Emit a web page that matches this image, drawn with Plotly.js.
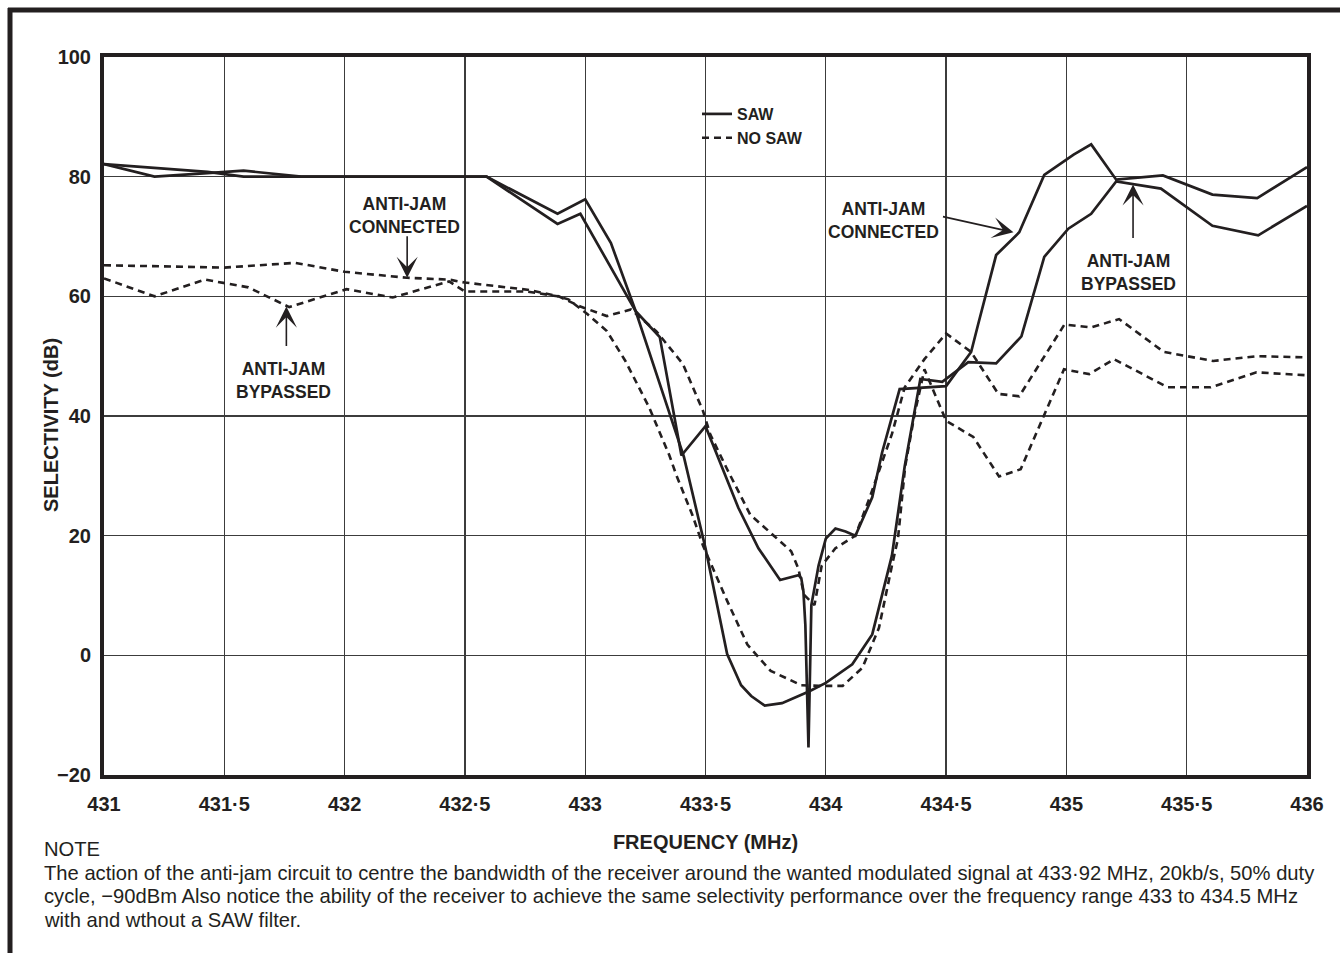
<!DOCTYPE html>
<html><head><meta charset="utf-8">
<script src="https://cdn.plot.ly/plotly-3.0.1.min.js"></script>
<style>html,body{margin:0;padding:0;background:#fff}#chart{width:1340px;height:953px}</style>
</head><body><div id="chart"></div>
<script>
// ---- data ----
const sawConnectedX = [431, 431.21, 431.43, 431.58, 431.82, 432.59, 432.885, 433.0, 433.107, 433.21, 433.31, 433.4, 433.5, 433.636, 433.72, 433.81, 433.886, 433.898, 433.907, 433.915, 433.928, 433.94, 433.97, 434.0, 434.04, 434.082, 434.123, 434.193, 434.234, 434.307, 434.5, 434.604, 434.633, 434.708, 434.804, 434.908, 435.03, 435.103, 435.207, 435.401, 435.607, 435.793, 436];
const sawConnectedY = [82.1, 80.0, 80.6, 81.0, 80.0, 80.0, 73.8, 76.2, 68.9, 57.5, 53.2, 33.4, 38.3, 24.7, 17.9, 12.6, 13.4, 12.9, 10.7, 5.1, -15.4, 8.4, 15.0, 19.5, 21.2, 20.7, 20.0, 26.4, 33.9, 44.5, 45.0, 50.7, 55.3, 66.9, 70.7, 80.3, 83.7, 85.4, 79.5, 80.2, 77.0, 76.4, 81.6];

const sawBypassedX = [431, 431.43, 431.58, 431.82, 432.59, 432.885, 432.98, 433.21, 433.41, 433.5, 433.59, 433.648, 433.69, 433.746, 433.818, 433.932, 434.0, 434.11, 434.193, 434.275, 434.316, 434.328, 434.393, 434.484, 434.592, 434.708, 434.813, 434.908, 435.008, 435.103, 435.207, 435.281, 435.393, 435.607, 435.797, 436];
const sawBypassedY = [82.1, 80.8, 80.0, 80.0, 80.0, 72.1, 73.8, 57.5, 33.2, 17.9, 0.2, -5.0, -6.8, -8.4, -8.0, -6.0, -4.6, -1.5, 3.5, 16.7, 28.7, 31.6, 46.2, 45.7, 49.0, 48.8, 53.3, 66.6, 71.3, 73.8, 79.2, 78.7, 78.0, 71.8, 70.2, 75.1];

const noSawConnectedX = [431, 431.5, 431.795, 432, 432.26, 432.434, 432.5, 432.76, 432.89, 432.98, 433.09, 433.19, 433.295, 433.406, 433.49, 433.52, 433.59, 433.686, 433.784, 433.856, 433.886, 433.91, 433.953, 433.983, 434.04, 434.123, 434.18, 434.275, 434.328, 434.41, 434.5, 434.604, 434.717, 434.804, 434.992, 435.103, 435.219, 435.405, 435.61, 435.793, 436];
const noSawConnectedY = [65.2, 64.8, 65.6, 64.1, 63.1, 62.8, 62.3, 61.1, 60.0, 58.3, 56.7, 57.8, 54.2, 48.7, 40.8, 36.9, 31.1, 23.5, 20.0, 17.4, 14.5, 10.1, 8.4, 15.0, 17.9, 20.0, 26.1, 37.0, 44.8, 49.5, 53.8, 50.7, 43.7, 43.3, 55.3, 54.8, 56.2, 50.7, 49.2, 50.0, 49.8];

const noSawBypassedX = [431, 431.21, 431.42, 431.6, 431.77, 432.008, 432.2, 432.434, 432.5, 432.76, 432.885, 432.93, 433.01, 433.09, 433.167, 433.265, 433.35, 433.38, 433.445, 433.49, 433.59, 433.674, 433.771, 433.898, 433.97, 434.07, 434.152, 434.221, 434.275, 434.3, 434.33, 434.369, 434.41, 434.5, 434.613, 434.72, 434.81, 434.99, 435.095, 435.198, 435.421, 435.6, 435.79, 436];
const noSawBypassedY = [63.0, 60.0, 62.8, 61.5, 58.2, 61.2, 59.8, 62.5, 60.8, 60.8, 60.0, 59.5, 57.0, 54.2, 49.2, 41.5, 33.4, 30.0, 23.5, 18.3, 9.1, 1.8, -2.6, -5.0, -5.1, -5.1, -2.1, 4.6, 15.0, 19.5, 31.6, 40.3, 47.8, 39.2, 36.5, 29.9, 31.1, 47.8, 47.0, 49.5, 44.8, 44.8, 47.3, 46.8];

const xTickVals = [431, 431.5, 432, 432.5, 433, 433.5, 434, 434.5, 435, 435.5, 436];
const xTickText = ['431', '431·5', '432', '432·5', '433', '433·5', '434', '434·5', '435', '435·5', '436'];
const yTickVals = [-20, 0, 20, 40, 60, 80, 100];

const seriesNames = ['SAW', 'NO SAW'];
const labelConnected = 'ANTI-JAM<br>CONNECTED';
const labelBypassed = 'ANTI-JAM<br>BYPASSED';
const xTitle = 'FREQUENCY (MHz)';
const yTitle = 'SELECTIVITY (dB)';
const noteLines = [
  'NOTE',
  'The action of the anti-jam circuit to centre the bandwidth of the receiver around the wanted modulated signal at 433·92 MHz, 20kb/s, 50% duty',
  'cycle, \u221290dBm Also notice the ability of the receiver to achieve the same selectivity performance over the frequency range 433 to 434.5 MHz',
  'with and wthout a SAW filter.'
];

// ---- layout helpers ----
const W = 1340, H = 953;
const M = {l: 104, r: 33, t: 57, b: 178};
const PW = W - M.l - M.r, PH = H - M.t - M.b;
const px = p => (p - M.l) / PW;
const py = p => (H - M.b - p) / PH;
const INK = '#231f20';
const FONT = '"Liberation Sans", Arial, Helvetica, sans-serif';

const solid = {color: INK, width: 2.7};
const dashed = {color: INK, width: 2.6, dash: '7px,5px'};

const traces = [
  {x: sawConnectedX, y: sawConnectedY, mode: 'lines', name: seriesNames[0], line: solid, showlegend: true},
  {x: noSawConnectedX, y: noSawConnectedY, mode: 'lines', name: seriesNames[1], line: dashed, showlegend: true},
  {x: sawBypassedX, y: sawBypassedY, mode: 'lines', name: seriesNames[0] + ' bypassed', line: solid, showlegend: false},
  {x: noSawBypassedX, y: noSawBypassedY, mode: 'lines', name: seriesNames[1] + ' bypassed', line: dashed, showlegend: false}
];

const lblFont = {family: FONT, size: 17.5, color: INK, weight: 700};
const noteFont = {family: FONT, size: 20.2, color: INK};

function label(text, x, y) {
  return {text, xref: 'paper', yref: 'paper', x: px(x), y: py(y), xanchor: 'center', yanchor: 'middle',
          showarrow: false, font: lblFont, align: 'center'};
}
function arrow(x, y, ax, ay) {
  return {text: '', xref: 'x', yref: 'y', x, y, ax, ay, showarrow: true,
          arrowhead: 3, arrowsize: 2.2, arrowwidth: 1.6, arrowcolor: INK, standoff: 0};
}
function note(text, y) {
  return {text, xref: 'paper', yref: 'paper', x: px(42), y: py(y), xanchor: 'left', yanchor: 'middle',
          showarrow: false, font: noteFont, align: 'left'};
}

const annotations = [
  label(labelConnected, 404, 215.5),
  arrow(432.26, 63.1, 0, -43),
  label(labelBypassed, 283, 381),
  arrow(431.758, 58.3, 0, 41),
  label(labelConnected, 883, 220.5),
  arrow(434.78, 70.7, -72, -16),
  label(labelBypassed, 1128, 272),
  arrow(435.277, 78.7, 0, 55),
  // y-axis title
  {text: yTitle, xref: 'paper', yref: 'paper', x: px(51), y: py(425), xanchor: 'center', yanchor: 'middle',
   textangle: -90, showarrow: false, font: {family: FONT, size: 20, color: INK, weight: 700}},
  note(noteLines[0], 849),
  note(noteLines[1], 873),
  note(noteLines[2], 896),
  note(noteLines[3], 920)
];

const shapes = [
  // white box behind the legend (interrupts grid lines)
  {type: 'rect', xref: 'paper', yref: 'paper', x0: px(688), x1: px(836), y0: py(154), y1: py(97),
   fillcolor: '#ffffff', line: {width: 0}, layer: 'between'},
  // page frame: top and left rules
  {type: 'line', xref: 'paper', yref: 'paper', x0: px(8), x1: px(1340), y0: py(10), y1: py(10),
   line: {color: INK, width: 5}},
  {type: 'line', xref: 'paper', yref: 'paper', x0: px(10), x1: px(10), y0: py(8), y1: py(953),
   line: {color: INK, width: 5}}
];

const axisCommon = {
  showline: true, linecolor: INK, linewidth: 4, mirror: true,
  showgrid: true, gridcolor: '#3c3c3c', gridwidth: 1.3, zeroline: false,
  ticks: 'outside', ticklen: 8, tickcolor: 'rgba(0,0,0,0)',
  tickfont: {family: FONT, size: 20, color: INK, weight: 700},
  fixedrange: true
};

const layout = {
  width: W, height: H, margin: M,
  paper_bgcolor: '#ffffff', plot_bgcolor: '#ffffff',
  font: {family: FONT, color: INK},
  xaxis: Object.assign({}, axisCommon, {
    range: [431, 436], tickmode: 'array', tickvals: xTickVals, ticktext: xTickText,
    title: {text: xTitle, font: {family: FONT, size: 20, color: INK, weight: 700}, standoff: 22}
  }),
  yaxis: Object.assign({}, axisCommon, {
    range: [-20, 100], tickmode: 'array', tickvals: yTickVals, ticklen: 5
  }),
  showlegend: true,
  legend: {x: px(697), y: py(97), xanchor: 'left', yanchor: 'top', bgcolor: 'rgba(0,0,0,0)',
           borderwidth: 0, font: {family: FONT, size: 16, color: INK, weight: 700}, tracegroupgap: 0},
  annotations, shapes
};

Plotly.newPlot('chart', traces, layout, {staticPlot: true, displayModeBar: false});
</script>
</body></html>
